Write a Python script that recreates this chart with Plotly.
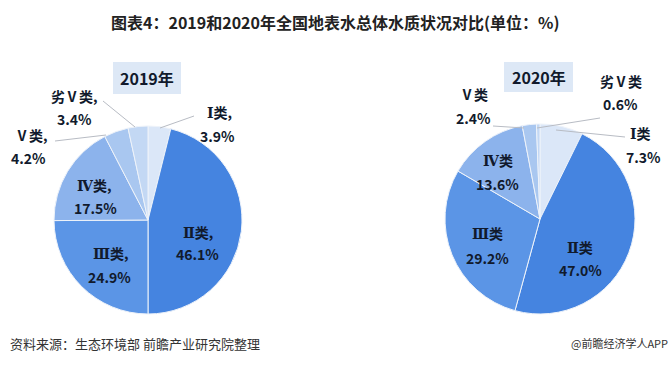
import plotly.graph_objects as go

categories_2019 = ["Ⅰ类,", "Ⅱ类,", "Ⅲ类,", "Ⅳ类,", "Ⅴ类,", "劣Ⅴ类,"]
categories_2020 = ["Ⅰ类", "Ⅱ类", "Ⅲ类", "Ⅳ类", "Ⅴ类", "劣Ⅴ类"]
values_2019 = [3.9, 46.1, 24.9, 17.5, 4.2, 3.4]
values_2020 = [7.3, 47.0, 29.2, 13.6, 2.4, 0.6]

colors = ["#dbe7f8", "#4584e0", "#5b95e6", "#8cb3ec", "#a9c7f0", "#c3d8f4"]
FONT = "Noto Sans CJK SC"
TXT = "#111a2c"
SERIF_NUMERALS = ["Ⅰ", "Ⅱ", "Ⅲ", "Ⅳ"]

def styled(cat):
    for n in SERIF_NUMERALS:
        if cat.startswith(n):
            return f"<span style='font-family:DejaVu Serif'>{n}</span>" + cat[len(n):]
    return cat

def pie(labels, values, domain):
    return go.Pie(
        labels=labels, values=values, sort=False, direction="clockwise", rotation=0,
        marker=dict(colors=colors, line=dict(color="#eef3fa", width=1)),
        textinfo="none", domain=domain, showlegend=False, hoverinfo="label+value",
    )

fig = go.Figure()
fig.add_trace(pie(categories_2019, values_2019, dict(x=[54/671, 242/671], y=[51/365, 239/365])))
fig.add_trace(pie(categories_2020, values_2020, dict(x=[445/671, 635/671], y=[51/365, 241/365])))

W, H = 671, 365
def px(x):
    return x / W
def py(y):
    return 1 - y / H

anns = []
def label(x, y, text, size=14):
    anns.append(dict(x=px(x), y=py(y), xref="paper", yref="paper", text=text, showarrow=False,
                     font=dict(family=FONT, size=size, color=TXT, weight="bold"),
                     xanchor="center", yanchor="middle"))

def pair(x1, y1, x2, y2, cat, val):
    label(x1, y1, styled(cat))
    label(x2, y2, f"{val:.1f}%")

# 2019 labels (I, II, III, IV, V, 劣V)
L19 = [(219, 112, 218, 136), (198, 232, 197, 254), (111, 253, 110, 277),
       (94, 185, 95, 208), (31, 135, 28, 158), (74, 96, 74, 119)]
for (a, b, c, d), cat, v in zip(L19, categories_2019, values_2019):
    pair(a, b, c, d, cat, v)
# 2020 labels
L20 = [(640, 133, 643, 157), (580, 247, 580, 270), (487, 233, 487, 258),
       (498, 160, 498, 184), (474, 94, 473, 118), (621, 81, 620, 104)]
for (a, b, c, d), cat, v in zip(L20, categories_2020, values_2020):
    pair(a, b, c, d, cat, v)

# year boxes
for x0, x1, y0, y1, t in [(113, 181, 62, 94, "2019年"), (504, 573, 62, 92, "2020年")]:
    fig.add_shape(type="rect", xref="paper", yref="paper", x0=px(x0), x1=px(x1), y0=py(y1), y1=py(y0),
                  fillcolor="#dde8f6", line=dict(width=0), layer="below")
    label((x0 + x1) / 2, (y0 + y1) / 2, t, size=16)

# leader lines
for (x0, y0, x1, y1) in [(194, 116, 160, 128), (103, 101, 135, 127), (55, 141, 106, 135),
                          (537, 128, 600, 118), (556, 130, 625, 137), (493, 126, 524, 128)]:
    fig.add_shape(type="line", xref="paper", yref="paper", x0=px(x0), y0=py(y0), x1=px(x1), y1=py(y1),
                  line=dict(color="#b8bcc4", width=1))

# title & footer
anns.append(dict(x=px(335), y=py(22), xref="paper", yref="paper", showarrow=False,
                 text="图表4：2019和2020年全国地表水总体水质状况对比(单位：%)",
                 font=dict(family=FONT, size=16, color="#222222", weight="bold"), xanchor="center", yanchor="middle"))
anns.append(dict(x=px(8), y=py(343), xref="paper", yref="paper", showarrow=False,
                 text="资料来源：生态环境部 前瞻产业研究院整理",
                 font=dict(family=FONT, size=13, color="#333333"), xanchor="left", yanchor="middle"))
anns.append(dict(x=px(670), y=py(343), xref="paper", yref="paper", showarrow=False,
                 text="@前瞻经济学人APP",
                 font=dict(family=FONT, size=11, color="#333333"), xanchor="right", yanchor="middle"))

fig.update_layout(width=W, height=H, margin=dict(l=0, r=0, t=0, b=0),
                  paper_bgcolor="white", plot_bgcolor="white", annotations=anns)
fig.write_html("out.html", config={"displayModeBar": False},
               post_script="document.body.style.margin='0';document.body.style.overflow='hidden';")
